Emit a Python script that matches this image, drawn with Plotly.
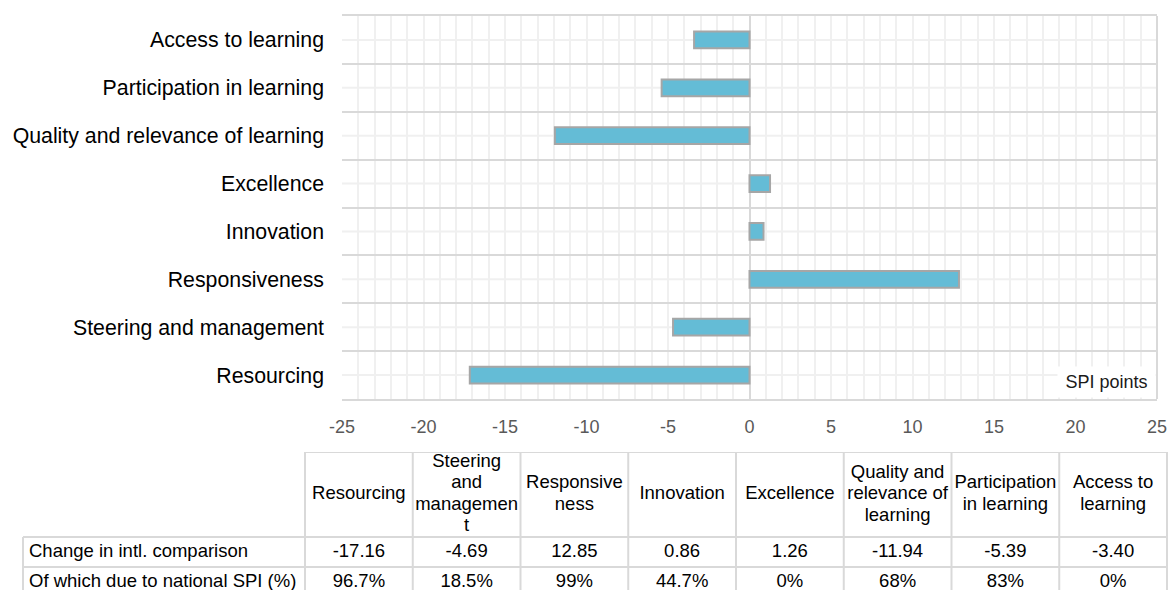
import plotly.graph_objects as go

# ---- data -------------------------------------------------------------
categories = [
    "Resourcing",
    "Steering and management",
    "Responsiveness",
    "Innovation",
    "Excellence",
    "Quality and relevance of learning",
    "Participation in learning",
    "Access to learning",
]
change_intl = [-17.16, -4.69, 12.85, 0.86, 1.26, -11.94, -5.39, -3.40]
national_share = [96.7, 18.5, 99, 44.7, 0, 68, 83, 0]
header_labels = [
    "Resourcing",
    "Steering<br>and<br>managemen<br>t",
    "Responsive<br>ness",
    "Innovation",
    "Excellence",
    "Quality and<br>relevance of<br>learning",
    "Participation<br>in learning",
    "Access to<br>learning",
]
row_labels = ["Change in intl. comparison", "Of which due to national SPI (%)"]
x_tick_values = [-25, -20, -15, -10, -5, 0, 5, 10, 15, 20, 25]
unit_label = "SPI points"

# ---- page layout (pixels) --------------------------------------------
W, H = 1168, 590
FONT = "Liberation Sans, Arial, sans-serif"
PLOT_L, PLOT_R, PLOT_T, PLOT_B = 342, 1157, 16, 399
TBL_LEFT, TBL_COL0, TBL_COLW = 23, 305, 107.75
TBL_TOP, TBL_HDR_H, TBL_ROW_H, TBL_LINE = 452, 85, 30, 21.5

BAR_FILL = "#64BCD6"
BAR_EDGE = "#A6A6A6"
GRID_MAJOR = "#D9D9D9"
GRID_MINOR = "#F0F0F0"
TBL_BORDER = "#D9D9D9"

fig = go.Figure()

# ---- bar chart ---------------------------------------------------------
fig.add_trace(go.Bar(
    x=change_intl,
    y=categories,
    orientation="h",
    width=0.35,
    marker=dict(color=BAR_FILL, line=dict(color=BAR_EDGE, width=2)),
    hoverinfo="x+y",
    showlegend=False,
))

# light guide line through the middle of every category band
for cat in categories:
    fig.add_shape(type="line", xref="x domain", yref="y", x0=0, x1=1, y0=cat, y1=cat,
                  line=dict(color=GRID_MINOR, width=2), layer="below")

# darker frame on the right-hand edge of the plot area
fig.add_shape(type="line", xref="x domain", yref="y domain", x0=1, x1=1, y0=0, y1=1,
              line=dict(color=GRID_MAJOR, width=2), layer="above")

fig.add_annotation(
    xref="x domain", yref="y domain", x=1, y=0, xanchor="right", yanchor="bottom",
    xshift=-1, yshift=1, text=unit_label, showarrow=False,
    bgcolor="white", width=97, height=30, borderpad=0,
    font=dict(family=FONT, size=18, color="#1a1a1a"),
)

# ---- table below the chart (own hidden axes) -------------------------
hdr = TBL_HDR_H / TBL_ROW_H           # header height in row units
n_cols = len(categories)
lbl_left = -(TBL_COL0 - TBL_LEFT) / TBL_COLW

# cell borders
line_style = dict(color=TBL_BORDER, width=2)
fig.add_shape(type="line", xref="x2", yref="y2", x0=0, x1=n_cols, y0=0, y1=0, line=line_style)
for r in range(1, 3):
    yy = hdr + r - 1
    fig.add_shape(type="line", xref="x2", yref="y2", x0=lbl_left, x1=n_cols, y0=yy, y1=yy,
                  line=line_style)
fig.add_shape(type="line", xref="x2", yref="y2", x0=lbl_left, x1=lbl_left, y0=hdr, y1=hdr + 2,
              line=line_style)
for c in range(n_cols + 1):
    fig.add_shape(type="line", xref="x2", yref="y2", x0=c, x1=c, y0=0, y1=hdr + 2,
                  line=line_style)

# header text, one line at a time so the leading stays tight
hx, hy, ht = [], [], []
for c, label in enumerate(header_labels):
    parts = label.split("<br>")
    n = len(parts)
    for k, part in enumerate(parts):
        hx.append(c + 0.5)
        hy.append(hdr / 2 + (k - (n - 1) / 2) * TBL_LINE / TBL_ROW_H)
        ht.append(part)

# numeric cells
cx, cy, ct = [], [], []
for c in range(n_cols):
    cx += [c + 0.5, c + 0.5]
    cy += [hdr + 0.5, hdr + 1.5]
    ct += [f"{change_intl[c]:.2f}", f"{national_share[c]:g}%"]

cell_font = dict(family=FONT, size=18.5, color="#000000")
fig.add_trace(go.Scatter(x=hx + cx, y=hy + cy, text=ht + ct, mode="text",
                         textposition="middle center", textfont=cell_font,
                         xaxis="x2", yaxis="y2", hoverinfo="skip", showlegend=False))
fig.add_trace(go.Scatter(x=[lbl_left + 6 / TBL_COLW] * 2, y=[hdr + 0.5, hdr + 1.5],
                         text=row_labels, mode="text", textposition="middle right",
                         textfont=cell_font, xaxis="x2", yaxis="y2",
                         hoverinfo="skip", showlegend=False))

# ---- axes ----------------------------------------------------------------
fig.update_layout(
    width=W, height=H,
    margin=dict(l=0, r=0, t=0, b=0, pad=0, autoexpand=False),
    paper_bgcolor="white", plot_bgcolor="white",
    font=dict(family=FONT),
    showlegend=False,
    xaxis=dict(
        domain=[PLOT_L / W, PLOT_R / W],
        range=[-25, 25],
        tickvals=x_tick_values,
        ticktext=[str(v) for v in x_tick_values],
        ticks="",
        showgrid=True, gridcolor=GRID_MINOR, gridwidth=2,
        minor=dict(dtick=1, tick0=0, showgrid=True, gridcolor=GRID_MINOR, gridwidth=2),
        zeroline=True, zerolinecolor=GRID_MAJOR, zerolinewidth=2,
        showline=True, mirror=True, linecolor=GRID_MAJOR, linewidth=2,
        tickfont=dict(family=FONT, size=18, color="#595959"),
        ticklabelstandoff=10,
        automargin=False,
        fixedrange=True,
    ),
    yaxis=dict(
        domain=[1 - PLOT_B / H, 1 - PLOT_T / H],
        type="category",
        categoryorder="array", categoryarray=categories,
        range=[-0.5, len(categories) - 0.5],
        tickson="boundaries",
        ticks="",
        showgrid=True, gridcolor=GRID_MAJOR, gridwidth=2,
        showline=False,
        tickfont=dict(family=FONT, size=21.3, color="#000000"),
        ticklabelstandoff=17,
        automargin=False,
        fixedrange=True,
    ),
    xaxis2=dict(
        domain=[0, 1], anchor="y2",
        range=[-TBL_COL0 / TBL_COLW, (W - TBL_COL0) / TBL_COLW],
        visible=False, automargin=False, fixedrange=True,
    ),
    yaxis2=dict(
        domain=[0, 1 - TBL_TOP / H], anchor="x2",
        range=[(H - TBL_TOP) / TBL_ROW_H, 0],
        visible=False, automargin=False, fixedrange=True,
    ),
)

fig.write_html("out.html")
